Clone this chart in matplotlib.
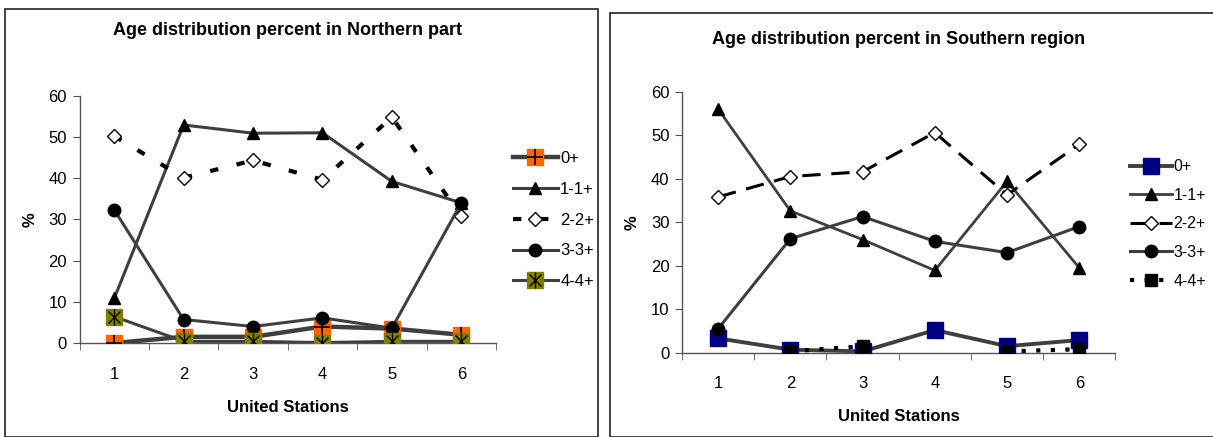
import numpy as np
import matplotlib
matplotlib.use("Agg")
import matplotlib.pyplot as plt
from matplotlib.patches import Rectangle

plt.rcParams["font.family"] = ["Liberation Sans", "DejaVu Sans"]

stations = [1, 2, 3, 4, 5, 6]
series_labels = ["0+", "1-1+", "2-2+", "3-3+", "4-4+"]

# Northern part (%)
north_0 = [0.0, 1.5, 1.5, 4.0, 3.5, 2.0]
north_1 = [10.8, 52.9, 50.9, 51.0, 39.2, 34.0]
north_2 = [50.2, 40.1, 44.3, 39.6, 54.8, 30.7]
north_3 = [32.3, 5.7, 4.0, 6.1, 3.6, 34.0]
north_4 = [6.4, 0.4, 0.4, 0.1, 0.4, 0.4]

# Southern region (%), 4-4+ missing at stations 1 and 4
south_0 = [3.3, 0.7, 0.3, 5.2, 1.5, 2.9]
south_1 = [56.0, 32.6, 26.0, 18.9, 39.4, 19.5]
south_2 = [35.8, 40.5, 41.6, 50.6, 36.3, 47.9]
south_3 = [5.5, 26.2, 31.3, 25.6, 23.0, 29.0]
south_4 = [np.nan, 0.3, 1.5, np.nan, 0.3, 0.8]

GRAY = "#3f3f3f"
W, H = 1213, 437


def px_axes(fig, x0, y0, x1, y1):
    # axes from pixel box (top-left origin)
    return fig.add_axes([x0 / W, 1 - y1 / H, (x1 - x0) / W, (y1 - y0) / H])


def style_axes(ax):
    ax.set_xlim(0.5, 6.5)
    ax.set_ylim(0, 60)
    ax.set_yticks(range(0, 61, 10))
    ax.set_xticks(stations)
    ax.set_xticks(np.arange(0.5, 7, 1), minor=True)
    ax.tick_params(axis="x", which="major", length=0, pad=17, labelsize=12)
    ax.tick_params(axis="x", which="minor", length=5, direction="out", color="#555555")
    ax.tick_params(axis="y", length=5, direction="out", color="#555555", labelsize=12, pad=4)
    for s in ("top", "right"):
        ax.spines[s].set_visible(False)
    for s in ("left", "bottom"):
        ax.spines[s].set_color("#555555")
        ax.spines[s].set_linewidth(1.0)
    ax.set_xlabel("United Stations", fontsize=12, fontweight="bold", labelpad=13)
    ax.set_ylabel("%", fontsize=12, fontweight="bold", labelpad=8)


fig = plt.figure(figsize=(W / 100, H / 100), dpi=100)

# panel frames
fig.patches.append(Rectangle((5 / W, 0), 593 / W, 1 - 8.5 / H, transform=fig.transFigure,
                             fill=False, edgecolor="#222222", linewidth=1.2))
fig.patches.append(Rectangle((610 / W, 0), 610 / W, 1 - 13 / H, transform=fig.transFigure,
                             fill=False, edgecolor="#222222", linewidth=1.2))

# ---- Northern ----
ax1 = px_axes(fig, 79.5, 95.7, 496, 343)
style_axes(ax1)
ax1.set_title("Age distribution percent in Northern part", fontsize=13, fontweight="bold", pad=44)

l0 = ax1.plot(stations, north_0, color=GRAY, lw=3.2, marker="s", ms=11,
              mfc="#ff6600", mec="#ff6600", zorder=3)[0]
l0b = ax1.plot(stations, north_0, ls="none", marker="+", ms=11, mew=1.2, color="black", zorder=3)[0]
l1 = ax1.plot(stations, north_1, color=GRAY, lw=2.2, marker="^", ms=9, mfc="black", mec="black", zorder=4)[0]
l2 = ax1.plot(stations, north_2, color="black", lw=3, ls=(0, (2, 4.5)), marker="D", ms=7,
              mfc="white", mec="black", mew=1.0, zorder=4)[0]
l3 = ax1.plot(stations, north_3, color=GRAY, lw=2.2, marker="o", ms=9, mfc="black", mec="black", zorder=4)[0]
l4 = ax1.plot(stations, north_4, color=GRAY, lw=2.2, marker="s", ms=11,
              mfc="#808000", mec="#808000", zorder=5)[0]
l4b = ax1.plot(stations, north_4, ls="none", marker="x", ms=9, mew=1.0, color="black", zorder=5)[0]
l4c = ax1.plot(stations, north_4, ls="none", marker="|", ms=11, mew=1.0, color="black", zorder=5)[0]

ax1.legend([(l0, l0b), l1, l2, l3, (l4, l4b, l4c)], series_labels,
           loc="center left", bbox_to_anchor=(506 / W, 1 - 220 / H), bbox_transform=fig.transFigure,
           frameon=False, fontsize=12, handlelength=2.7, handletextpad=0.15, labelspacing=0.95,
           borderaxespad=0)

# ---- Southern ----
ax2 = px_axes(fig, 682, 91.7, 1115.4, 352.7)
style_axes(ax2)
ax2.set_title("Age distribution percent in Southern region", fontsize=13, fontweight="bold", pad=34)

s0 = ax2.plot(stations, south_0, color=GRAY, lw=2.8, marker="s", ms=12,
              mfc="#000080", mec="#000080", zorder=3)[0]
s1 = ax2.plot(stations, south_1, color=GRAY, lw=2.0, marker="^", ms=9, mfc="black", mec="black", zorder=4)[0]
s2 = ax2.plot(stations, south_2, color="black", lw=2.2, ls=(0, (6, 3.5)), marker="D", ms=7,
              mfc="white", mec="black", mew=1.0, zorder=4)[0]
s3 = ax2.plot(stations, south_3, color=GRAY, lw=2.2, marker="o", ms=9, mfc="black", mec="black", zorder=4)[0]
s4 = ax2.plot(stations, south_4, color="black", lw=3, ls=(0, (1, 2.5)), marker="s", ms=9,
              mfc="black", mec="black", zorder=5)[0]

ax2.legend([s0, s1, s2, s3, s4], series_labels,
           loc="center left", bbox_to_anchor=(1124 / W, 1 - 224 / H), bbox_transform=fig.transFigure,
           frameon=False, fontsize=11.5, handlelength=2.6, handletextpad=0.1, labelspacing=0.85,
           borderaxespad=0)

fig.savefig("out.png", dpi=100)
